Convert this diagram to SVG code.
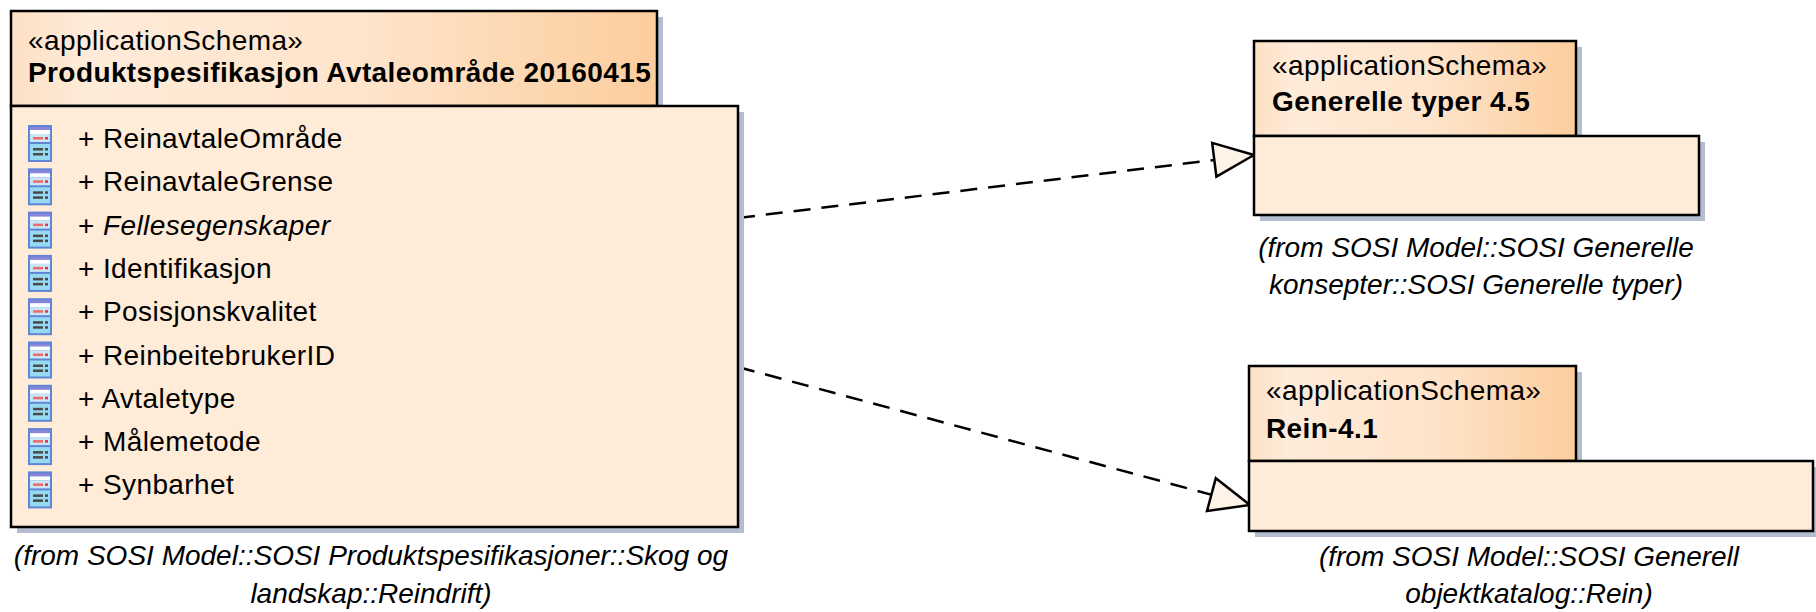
<svg xmlns="http://www.w3.org/2000/svg" width="1816" height="612" viewBox="0 0 1816 612">
<style>
.t{font-family:"Liberation Sans",Arial,sans-serif;font-size:28px;fill:#000;letter-spacing:0.4px}
.b{font-weight:bold}
.i{font-style:italic;letter-spacing:0}
.m{text-anchor:middle}
.box{stroke:#000;stroke-width:2.5}
.tab{fill:url(#tabg)}
.body{fill:#feebd8}
.sh{fill:#b5bdd1}
.conn{fill:none;stroke:#000;stroke-width:2.5;stroke-dasharray:17 11}
.head{fill:#fdf3e7;stroke:#000;stroke-width:2.5;stroke-linejoin:miter}
</style>
<defs>
<linearGradient id="tabg" x1="0" y1="0" x2="1" y2="0">
<stop offset="0" stop-color="#fde0c4"/>
<stop offset="0.12" stop-color="#feebd9"/>
<stop offset="0.55" stop-color="#fee4cb"/>
<stop offset="1" stop-color="#fccd9d"/>
</linearGradient>
<g id="icon">
<rect x="0" y="0" width="24" height="37" fill="#5f86d6"/>
<rect x="2" y="2" width="20" height="3" fill="#8a84d8"/>
<rect x="2" y="5" width="20" height="4" fill="#ffffff"/>
<rect x="2" y="9" width="20" height="8" fill="#c9e6f6"/>
<rect x="5" y="12" width="10" height="2.5" fill="#ee6b6b"/>
<rect x="17" y="12" width="3" height="2.5" fill="#dd3b3b"/>
<rect x="2" y="19" width="20" height="16" fill="#96daf2"/>
<rect x="5" y="23" width="10" height="2.5" fill="#4a4a4a"/>
<rect x="17" y="23" width="3" height="2.5" fill="#4a4a4a"/>
<rect x="5" y="28" width="10" height="2.5" fill="#4a4a4a"/>
<rect x="17" y="28" width="3" height="2.5" fill="#4a4a4a"/>
</g>
</defs>

<g id="connectors">
<line class="conn" x1="738" y1="218" x2="1214" y2="160"/>
<polygon class="head" points="1254,155 1212.2,142.9 1216.4,176.7"/>
<line class="conn" x1="738" y1="367" x2="1211" y2="494.6"/>
<polygon class="head" points="1250,505 1215.8,478.2 1207,511"/>
</g>

<g id="pkg-produktspesifikasjon">
<rect class="sh" x="17" y="17" width="646" height="95"/>
<rect class="sh" x="17" y="112" width="727" height="421"/>
<rect class="tab box" x="11" y="11" width="646" height="95"/>
<rect class="body box" x="11" y="106" width="727" height="421"/>
<text class="t" x="28" y="50">«applicationSchema»</text>
<text class="t b" x="28" y="82">Produktspesifikasjon Avtaleområde 20160415</text>
<use href="#icon" x="28" y="125"/>
<text class="t" x="78" y="148">+ ReinavtaleOmråde</text>
<use href="#icon" x="28" y="168.3"/>
<text class="t" x="78" y="191.3">+ ReinavtaleGrense</text>
<use href="#icon" x="28" y="211.6"/>
<text class="t" x="78" y="234.6">+ <tspan font-style="italic">Fellesegenskaper</tspan></text>
<use href="#icon" x="28" y="254.9"/>
<text class="t" x="78" y="277.9">+ Identifikasjon</text>
<use href="#icon" x="28" y="298.2"/>
<text class="t" x="78" y="321.2">+ Posisjonskvalitet</text>
<use href="#icon" x="28" y="341.5"/>
<text class="t" x="78" y="364.5">+ ReinbeitebrukerID</text>
<use href="#icon" x="28" y="384.8"/>
<text class="t" x="78" y="407.8">+ Avtaletype</text>
<use href="#icon" x="28" y="428.1"/>
<text class="t" x="78" y="451.1">+ Målemetode</text>
<use href="#icon" x="28" y="471.4"/>
<text class="t" x="78" y="494.4">+ Synbarhet</text>
<text class="t i m" x="371" y="565">(from SOSI Model::SOSI Produktspesifikasjoner::Skog og</text>
<text class="t i m" x="371" y="603">landskap::Reindrift)</text>
</g>

<g id="pkg-generelle-typer">
<rect class="sh" x="1260" y="47" width="322" height="95"/>
<rect class="sh" x="1260" y="142" width="445" height="79"/>
<rect class="tab box" x="1254" y="41" width="322" height="95"/>
<rect class="body box" x="1254" y="136" width="445" height="79"/>
<text class="t" x="1272" y="75">«applicationSchema»</text>
<text class="t b" x="1272" y="111">Generelle typer 4.5</text>
<text class="t i m" x="1476" y="257">(from SOSI Model::SOSI Generelle</text>
<text class="t i m" x="1476" y="294">konsepter::SOSI Generelle typer)</text>
</g>

<g id="pkg-rein">
<rect class="sh" x="1255" y="372" width="327" height="95"/>
<rect class="sh" x="1255" y="467" width="564" height="70"/>
<rect class="tab box" x="1249" y="366" width="327" height="95"/>
<rect class="body box" x="1249" y="461" width="564" height="70"/>
<text class="t" x="1266" y="400">«applicationSchema»</text>
<text class="t b" x="1266" y="438">Rein-4.1</text>
<text class="t i m" x="1529" y="566">(from SOSI Model::SOSI Generell</text>
<text class="t i m" x="1529" y="603">objektkatalog::Rein)</text>
</g>
</svg>
